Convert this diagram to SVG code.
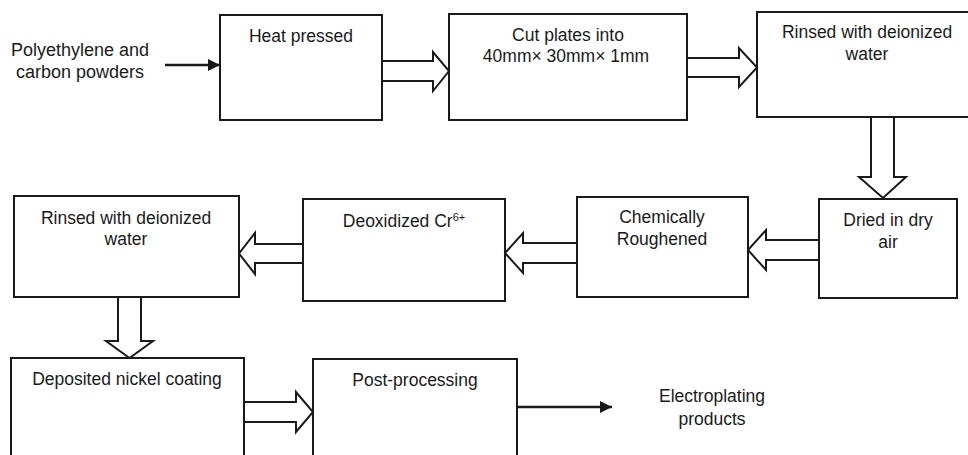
<svg xmlns="http://www.w3.org/2000/svg" width="968" height="455" viewBox="0 0 968 455">
<style>
.box{fill:#fff;stroke:#1a1a1a;stroke-width:2}
.t{font-family:"Liberation Sans",Arial,sans-serif;font-size:17.5px;fill:#1a1a1a;text-anchor:middle}
.big{font-size:18px}
.hollow{fill:#fff;stroke:#1a1a1a;stroke-width:2;stroke-linejoin:miter}
.line{stroke:#1a1a1a;stroke-width:2.5;fill:none}
</style>
<defs>
<marker id="ah" viewBox="0 0 10 10" refX="10" refY="5" markerWidth="5" markerHeight="5.5" orient="auto" markerUnits="strokeWidth">
<path d="M0,0 L10,5 L0,10 Z" fill="#1a1a1a"/>
</marker>
</defs>
<rect width="968" height="455" fill="#fff"/>
<g id="input-label">
<text class="t big" x="80" y="56">Polyethylene and</text>
<text class="t big" x="80" y="78">carbon powders</text>
</g>
<g id="heat-pressed">
<rect class="box" x="220" y="15" width="162" height="105"/>
<text class="t" x="301" y="42">Heat pressed</text>
</g>
<g id="cut-plates">
<rect class="box" x="449" y="14" width="238" height="106"/>
<text class="t" x="568" y="41">Cut plates into</text>
<text class="t" x="566" y="62">40mm× 30mm× 1mm</text>
</g>
<g id="rinsed-1">
<rect class="box" x="757" y="12" width="222" height="105"/>
<text class="t" x="867" y="38">Rinsed with deionized</text>
<text class="t" x="867" y="60">water</text>
</g>
<g id="dried">
<rect class="box" x="819" y="199" width="138" height="99"/>
<text class="t" x="888" y="226">Dried in dry</text>
<text class="t" x="888" y="248">air</text>
</g>
<g id="chemically-roughened">
<rect class="box" x="577" y="197" width="171" height="100"/>
<text class="t" x="662" y="223">Chemically</text>
<text class="t" x="662" y="245">Roughened</text>
</g>
<g id="deoxidized">
<rect class="box" x="303" y="199" width="202" height="102"/>
<text class="t" x="404" y="227">Deoxidized Cr<tspan font-size="11" dy="-6">6+</tspan></text>
</g>
<g id="rinsed-2">
<rect class="box" x="14" y="196" width="225" height="101"/>
<text class="t" x="126" y="224">Rinsed with deionized</text>
<text class="t" x="126" y="245">water</text>
</g>
<g id="deposited">
<rect class="box" x="11" y="358" width="233" height="120"/>
<text class="t" x="127" y="385">Deposited nickel coating</text>
</g>
<g id="post-processing">
<rect class="box" x="313" y="359" width="204" height="120"/>
<text class="t" x="415" y="386">Post-processing</text>
</g>
<g id="output-label">
<text class="t" x="712" y="402">Electroplating</text>
<text class="t" x="712" y="425">products</text>
</g>
<g id="connectors">
<line class="line" x1="165" y1="65" x2="220" y2="65" marker-end="url(#ah)"/>
<polygon class="hollow" points="382,61 433,61 433,52 449,71 433,91 433,81 382,81"/>
<polygon class="hollow" points="687,58 739,58 739,48 757,67.5 739,87 739,77 687,77"/>
<polygon class="hollow" points="871,117 871,177 859,177 883,198 906,177 894,177 894,117"/>
<polygon class="hollow" points="819,240 766,240 766,230 748,250 766,270 766,260 819,260"/>
<polygon class="hollow" points="577,243 523,243 523,233 505,253 523,273 523,263 577,263"/>
<polygon class="hollow" points="303,244 255,244 255,233 239,253.5 255,274 255,263 303,263"/>
<polygon class="hollow" points="118,297 118,341 106,341 129.5,358 153,341 141,341 141,297"/>
<polygon class="hollow" points="244,402 296,402 296,392 313,412 296,432 296,422 244,422"/>
<line class="line" x1="517" y1="407" x2="612" y2="407" marker-end="url(#ah)"/>
</g>
</svg>
